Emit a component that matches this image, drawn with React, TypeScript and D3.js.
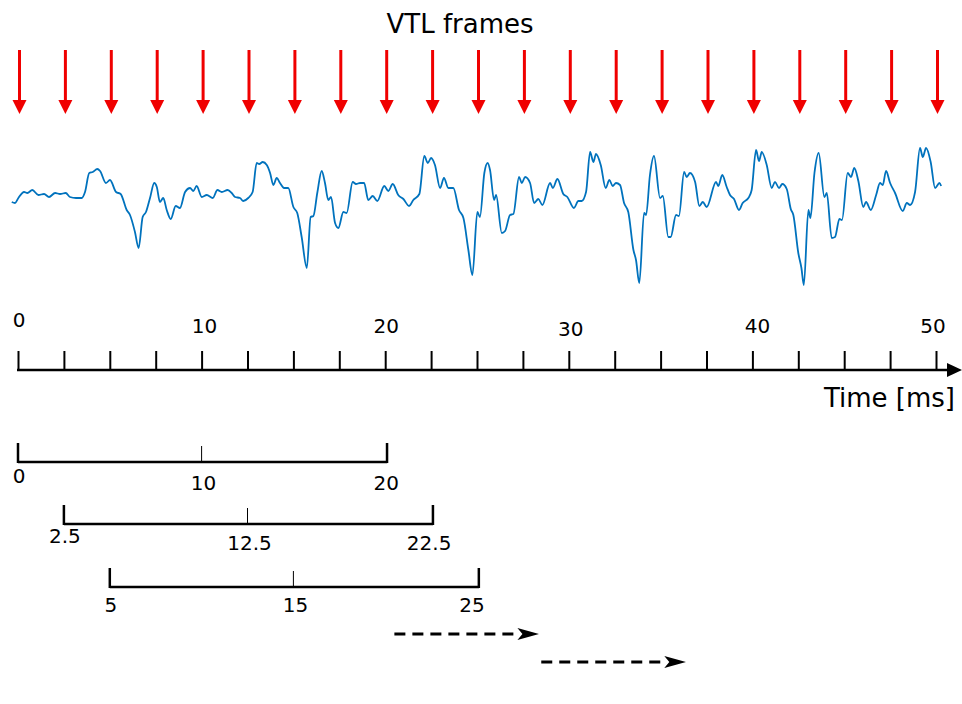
import { useEffect, useRef } from 'react';
import * as d3 from 'd3';

// waveform: time [ms] and amplitude (arbitrary units)
const waveTime = [
  -0.34, -0.16, 0.02, 0.33, 0.51, 0.78, 1.11, 1.42, 1.69, 2.02, 2.29, 2.6, 2.83, 3.16, 3.47, 3.65,
  3.88, 4.07, 4.32, 4.47, 4.79, 5.01, 5.34, 5.59, 5.92, 6.1, 6.37, 6.57, 6.79, 6.97, 7.19, 7.42,
  7.56, 7.73, 7.91, 8.1, 8.32, 8.59, 8.82, 9.1, 9.37, 9.55, 9.73, 10.01, 10.28, 10.61, 10.86, 11.1,
  11.42, 11.64, 11.82, 12.09, 12.27, 12.54, 12.78, 13.0, 13.14, 13.33, 13.55, 13.73, 13.91, 14.09,
  14.27, 14.49, 14.72, 15.0, 15.21, 15.45, 15.73, 15.94, 16.09, 16.3, 16.54, 16.72, 16.9, 17.05,
  17.27, 17.45, 17.72, 17.9, 18.23, 18.41, 18.63, 18.85, 19.08, 19.32, 19.57, 19.95, 20.17, 20.41,
  20.71, 20.99, 21.3, 21.53, 21.86, 22.13, 22.32, 22.5, 22.71, 22.99, 23.2, 23.44, 23.71, 24.02,
  24.26, 24.53, 24.75, 25.02, 25.16, 25.4, 25.58, 25.71, 25.93, 26.04, 26.35, 26.53, 26.8, 26.98,
  27.29, 27.44, 27.62, 27.89, 28.11, 28.34, 28.56, 28.98, 29.13, 29.38, 29.7, 29.92, 30.28, 30.52,
  30.7, 30.94, 31.16, 31.34, 31.48, 31.74, 32.01, 32.21, 32.39, 32.57, 32.79, 33.01, 33.24, 33.52,
  33.66, 33.84, 34.1, 34.21, 34.42, 34.64, 34.97, 35.12, 35.42, 35.55, 35.84, 36.0, 36.28, 36.42,
  36.6, 36.88, 37.11, 37.3, 37.51, 38.02, 38.14, 38.36, 38.6, 38.78, 39.0, 39.27, 39.47, 39.78,
  39.96, 40.2, 40.36, 40.51, 40.78, 41.05, 41.23, 41.45, 41.63, 41.87, 42.09, 42.23, 42.5, 42.67,
  42.8, 43.05, 43.16, 43.38, 43.61, 43.92, 44.05, 44.32, 44.5, 44.74, 44.88, 45.19, 45.37, 45.55,
  45.77, 46.04, 46.19, 46.45, 46.74, 46.95, 47.1, 47.28, 47.5, 47.77, 48.19, 48.41, 48.59, 48.86,
  49.13, 49.28, 49.46, 49.71, 49.95, 50.19, 50.28,
];
const waveValue = [
  -2, -3, 2, 8, 7, 10, 5, 6, 3, 7, 6, 7, 3, 2, 2, 8,
  27, 28, 31, 29, 17, 20, 8, 6, -10, -15, -32, -48, -17, -12, 2, 17,
  13, -2, 2, -10, -19, -6, -8, 8, 12, 9, 14, 3, 5, 2, 10, 8,
  10, 7, 3, 2, -1, 2, 8, 37, 36, 38, 35, 27, 15, 22,
  17, 12, 12, -7, -13, -37, -68, -17, -16, 7, 29, 17, 0, 3,
  -23, -28, -12, -13, 18, 16, 17, 17, 0, 4, -1, 14, 9, 16,
  5, 1, -6, 0, 6, 44, 37, 42, 35, 12, 22, 12, 12, -10,
  -18, -50, -75, -12, -17, 27, 37, 30, 0, 5, -33, -31, -15, -14,
  23, 17, 23, 17, -3, 1, -5, 17, 12, 21, 6, 3, -8, -1,
  -1, 8, 48, 38, 46, 35, 12, 20, 14, 17, 15, -3, -12, -50,
  -60, -83, -13, -15, 25, 44, 2, 4, -37, -37, -15, -16, 28, 23,
  27, 18, -6, -2, -7, 18, 14, 25, 13, 5, 1, -10, -3, 2,
  10, 50, 39, 48, 35, 12, 18, 12, 16, 11, -9, -15, -53, -68,
  -85, -10, -18, 27, 47, 3, 7, -38, -37, -19, -20, 27, 23, 32,
  19, -7, -2, -10, 5, 17, 15, 29, 17, 7, -11, -3, -5, 8,
  52, 43, 52, 38, 12, 17, 14,
];

// VTL frame instants every 2.5 ms
const frameTimes = d3.range(0, 50.01, 2.5);
const axisTicks = d3.range(0, 50.01, 2.5);
const axisLabels = [0, 10, 20, 30, 40, 50];
// analysis windows (start, centre, end) in ms
const windowStarts = [0, 2.5, 5];
const windowLength = 20;
const windowLabels = [['0', '10', '20'], ['2.5', '12.5', '22.5'], ['5', '15', '25']];
// hop arrows (ms)
const hopArrows = [[20.5, 28.4], [28.5, 36.4]];

const FONT = '"DejaVu Sans", Verdana, sans-serif';

export default function App() {
  const ref = useRef<SVGSVGElement>(null);

  useEffect(() => {
    if (!ref.current) return;
    const svg = d3.select(ref.current);
    svg.selectAll('*').remove();

    const x = d3.scaleLinear().domain([0, 50]).range([18, 936]);
    const y = d3.scaleLinear().domain([-100, 60]).range([300, 140]);

    const defs = svg.append('defs');
    defs.append('marker')
      .attr('id', 'stealth')
      .attr('viewBox', '0 0 22 12')
      .attr('refX', 22).attr('refY', 6)
      .attr('markerWidth', 22).attr('markerHeight', 12)
      .attr('markerUnits', 'userSpaceOnUse')
      .attr('orient', 'auto')
      .append('path')
      .attr('d', 'M0,0 L22,6 L0,12 L5,6 Z')
      .attr('fill', '#000');

    // title
    svg.append('text')
      .attr('x', 460).attr('y', 33)
      .attr('text-anchor', 'middle')
      .attr('font-family', FONT).attr('font-size', 26)
      .text('VTL frames');

    // 1) red frame arrows
    const arrows = svg.append('g');
    frameTimes.forEach(t => {
      const ax = x(t) + 1.5;
      arrows.append('line')
        .attr('x1', ax).attr('x2', ax).attr('y1', 50).attr('y2', 102)
        .attr('stroke', '#f00000').attr('stroke-width', 3);
      arrows.append('path')
        .attr('d', `M${ax - 7},100 L${ax + 7},100 L${ax},114 Z`)
        .attr('fill', '#f00000');
    });

    // 2) waveform
    const line = d3.line<number>()
      .x((d, i) => x(waveTime[i]))
      .y(d => y(d))
      .curve(d3.curveMonotoneX);
    svg.append('path')
      .datum(waveValue)
      .attr('d', line)
      .attr('fill', 'none')
      .attr('stroke', '#0072bd')
      .attr('stroke-width', 1.8)
      .attr('stroke-linejoin', 'round');

    // 3) time axis
    const axisY = 370;
    const gAxis = svg.append('g').attr('transform', `translate(0,${axisY})`);
    gAxis.call(
      d3.axisTop(x).tickValues(axisTicks).tickSize(19).tickFormat(() => '')
    );
    gAxis.select('.domain').remove();
    gAxis.selectAll('.tick line').attr('stroke', '#000').attr('stroke-width', 2);
    gAxis.append('line')
      .attr('x1', x(0) - 1).attr('x2', 950)
      .attr('stroke', '#000').attr('stroke-width', 2.5);
    gAxis.append('path')
      .attr('d', 'M947,-7 L962,0 L947,7 Z')
      .attr('fill', '#000');

    const labelDy: Record<number, number> = { 0: -43, 10: -37, 20: -37, 30: -34, 40: -37, 50: -37 };
    gAxis.selectAll('text.lab')
      .data(axisLabels)
      .enter()
      .append('text')
      .attr('class', 'lab')
      .attr('x', d => x(d) + (d === 50 ? -3 : d === 30 ? 2 : d === 40 ? 5 : d === 10 ? 3 : 1))
      .attr('y', d => labelDy[d])
      .attr('text-anchor', 'middle')
      .attr('fill', '#000')
      .attr('font-family', FONT).attr('font-size', 20)
      .text(d => String(d));

    svg.append('text')
      .attr('x', 955).attr('y', 407)
      .attr('text-anchor', 'end')
      .attr('font-family', FONT).attr('font-size', 26)
      .text('Time [ms]');

    // 4) analysis windows
    const windowY = [462, 524, 587];
    const labelOffsets = [[21, 28, 28], [19, 26, 26], [25, 25, 25]];
    windowStarts.forEach((s, w) => {
      const g = svg.append('g').attr('transform', `translate(0,${windowY[w]})`);
      const pts = [s, s + windowLength / 2, s + windowLength];
      g.append('line')
        .attr('x1', x(pts[0])).attr('x2', x(pts[2]) + 2)
        .attr('stroke', '#000').attr('stroke-width', 2.5);
      [pts[0], pts[2] + 0.1].forEach(p => {
        g.append('line')
          .attr('x1', x(p)).attr('x2', x(p))
          .attr('y1', 1).attr('y2', -19)
          .attr('stroke', '#000').attr('stroke-width', 2.5);
      });
      g.append('line')
        .attr('x1', x(pts[1])).attr('x2', x(pts[1]))
        .attr('y1', 0).attr('y2', -16)
        .attr('stroke', '#000').attr('stroke-width', 1);
      pts.forEach((p, i) => {
        g.append('text')
          .attr('x', x(p) + (i === 2 && w === 2 ? -5 : i === 2 && w === 1 ? -2 : i === 1 ? 2 : 1))
          .attr('y', labelOffsets[w][i])
          .attr('text-anchor', 'middle')
          .attr('font-family', FONT).attr('font-size', 20)
          .text(windowLabels[w][i]);
      });
    });

    // 5) dashed hop arrows
    const hopY = [634, 662];
    hopArrows.forEach(([a, b], i) => {
      svg.append('line')
        .attr('x1', x(a)).attr('x2', x(b) - 20)
        .attr('y1', hopY[i]).attr('y2', hopY[i])
        .attr('stroke', '#000').attr('stroke-width', 3)
        .attr('stroke-dasharray', '11,7');
      svg.append('line')
        .attr('x1', x(b) - 20).attr('x2', x(b))
        .attr('y1', hopY[i]).attr('y2', hopY[i])
        .attr('stroke', 'none')
        .attr('marker-end', 'url(#stealth)');
    });
  }, []);

  return (
    <svg
      ref={ref}
      width={962}
      height={704}
      style={{ position: 'absolute', left: 0, top: 0, background: '#fff' }}
    />
  );
}
